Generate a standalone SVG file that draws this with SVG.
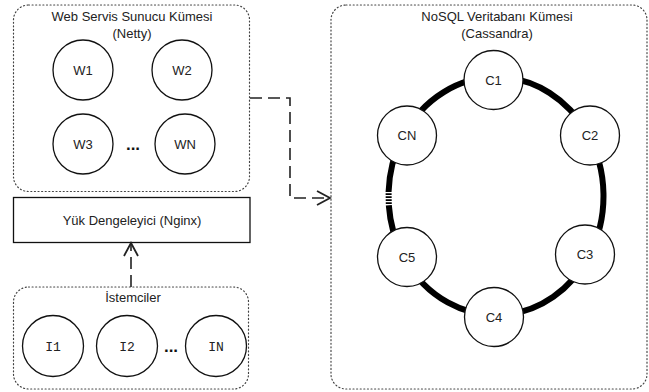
<svg xmlns="http://www.w3.org/2000/svg" width="649" height="392" viewBox="0 0 649 392">
<defs>
<style>
.cont{fill:none;stroke:#444;stroke-width:1.2;stroke-dasharray:1 2.6;stroke-linecap:round}
.node{fill:#fff;stroke:#111;stroke-width:1.3}
.t{font-family:"Liberation Sans",Arial,sans-serif;font-size:13px;fill:#222;text-anchor:middle}
.m{font-family:"Liberation Mono","Courier New",monospace;font-size:13px;fill:#222;text-anchor:middle}
.dots{font-family:"Liberation Sans",Arial,sans-serif;font-size:17px;font-weight:bold;fill:#111;text-anchor:middle}
.conn{fill:none;stroke:#222;stroke-width:1.6;stroke-dasharray:12 6}
.ring{fill:none;stroke:#000;stroke-width:6}
</style>
<marker id="open" markerUnits="userSpaceOnUse" markerWidth="20" markerHeight="20" viewBox="-16 -10 20 20" refX="0" refY="0" orient="auto">
<path d="M-13,-7 L0,0 L-13,7" fill="none" stroke="#222" stroke-width="1.8"/>
</marker>
</defs>
<rect x="0" y="0" width="649" height="392" fill="#fff"/>

<g id="web-cluster">
<rect class="cont" x="13.5" y="5" width="236" height="186.5" rx="15" ry="15"/>
<text class="t" x="132" y="21">Web Servis Sunucu Kümesi</text>
<text class="t" x="132" y="37.5">(Netty)</text>
</g>
<g id="W1"><circle class="node" cx="83" cy="70" r="30"/><text class="t" x="83" y="74.5">W1</text></g>
<g id="W2"><circle class="node" cx="182" cy="70" r="30"/><text class="t" x="182" y="74.5">W2</text></g>
<g id="W3"><circle class="node" cx="83" cy="144" r="30"/><text class="t" x="83" y="148.5">W3</text></g>
<g id="WN"><circle class="node" cx="185" cy="144" r="30"/><text class="t" x="185" y="148.5">WN</text></g>
<text class="dots" x="133" y="150">...</text>

<g id="load-balancer">
<rect x="13.5" y="197.5" width="236.5" height="45" fill="#fff" stroke="#111" stroke-width="1.3"/>
<text class="t" x="132" y="224.5">Yük Dengeleyici (Nginx)</text>
</g>

<g id="clients">
<rect class="cont" x="13.5" y="287" width="235" height="102" rx="15" ry="15"/>
<text class="t" x="133" y="302">İstemciler</text>
</g>
<g id="I1"><circle class="node" cx="53" cy="346" r="30.5"/><text class="m" x="53" y="350.5">I1</text></g>
<g id="I2"><circle class="node" cx="127" cy="346" r="30.5"/><text class="m" x="127" y="350.5">I2</text></g>
<g id="IN"><circle class="node" cx="216" cy="346" r="30.5"/><text class="m" x="216" y="350.5">IN</text></g>
<text class="dots" x="171" y="352">...</text>

<g id="nosql-cluster">
<rect class="cont" x="331" y="5" width="316" height="384" rx="15" ry="15"/>
<text class="t" x="497" y="21">NoSQL Veritabanı Kümesi</text>
<text class="t" x="497" y="37.5">(Cassandra)</text>
</g>

<g id="connectors">
<path class="ring" d="M388.56,192 A107.5,119 0 1 1 388.81,205.2"/>
<path class="ring" d="M388.6,193.2 L388.8,205.2" stroke-dasharray="1.8 1.2"/>
<path class="conn" d="M250,98 H290 V198 H330" marker-end="url(#open)"/>
<path class="conn" d="M131,287 V243" marker-end="url(#open)"/>
</g>

<g id="C1"><circle class="node" cx="493.5" cy="80" r="29.5"/><text class="t" x="493.5" y="84.5">C1</text></g>
<g id="C2"><circle class="node" cx="590" cy="135.5" r="29.5"/><text class="t" x="590" y="140">C2</text></g>
<g id="C3"><circle class="node" cx="585" cy="254.5" r="29.5"/><text class="t" x="585" y="259">C3</text></g>
<g id="C4"><circle class="node" cx="494" cy="317" r="29.5"/><text class="t" x="494" y="321.5">C4</text></g>
<g id="C5"><circle class="node" cx="407" cy="257" r="29.5"/><text class="t" x="407" y="261.5">C5</text></g>
<g id="CN"><circle class="node" cx="407" cy="135.5" r="29.5"/><text class="t" x="407" y="140">CN</text></g>
</svg>
